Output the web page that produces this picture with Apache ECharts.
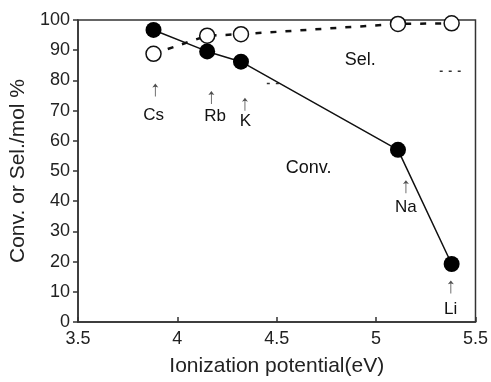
<!DOCTYPE html>
<html><head><meta charset="utf-8">
<script src="https://cdn.jsdelivr.net/npm/echarts@6/dist/echarts.min.js"></script>
<style>html,body{margin:0;padding:0;background:#fff}#c{width:491px;height:382px}</style>
</head><body><div id="c"></div>
<script>
// Data
const ionX = [3.88, 4.15, 4.32, 5.11, 5.38];
const conv = [96.7, 89.6, 86.2, 57.0, 19.2];
const sel = [88.8, 94.8, 95.3, 98.7, 98.9];
const xTicks = [3.5, 4, 4.5, 5, 5.5];
const yTicks = [0, 10, 20, 30, 40, 50, 60, 70, 80, 90, 100];
// annotations (element labels with arrows)
const elemNames = ['Cs', 'Rb', 'K', 'Na', 'Li'];
const arrowX = [3.889, 4.171, 4.34, 5.15, 5.376];
const arrowY = [76.8, 74.3, 72.1, 44.8, 11.6];
const nameX = [3.88, 4.19, 4.343, 5.15, 5.375];
const nameY = [68.6, 68.0, 66.4, 37.9, 4.2];
const seriesNames = ['Sel.', 'Conv.'];
const seriesNameX = [4.92, 4.66];
const seriesNameY = [86.9, 51];
// stray dash marks present in the figure
const strayA = [[4.45, 79], [4.52, 79]];
const strayB = [[5.32, 83], [5.44, 83]];

const font = 'Liberation Sans, Arial, Helvetica, sans-serif';
const chart = echarts.init(document.getElementById('c'));
const pts = (xs, ys) => xs.map((x, i) => [x, ys[i]]);
const textSeries = (xs, ys, texts, size) => ({
  type: 'scatter', symbolSize: 0.1, itemStyle: {color: '#fff'}, silent: true, z: 5,
  data: xs.map((x, i) => ({value: [x, ys[i]], label: {formatter: texts[i]}})),
  label: {show: true, position: 'inside', color: '#111', fontSize: size, fontFamily: font,
          textBorderWidth: 0, opacity: 1}
});
const arrowPath = 'path://M3,0L0,4.2L2.6,3.3L2.6,14L3.4,14L3.4,3.3L6,4.2Z';
chart.setOption({
  animation: false,
  grid: {left: 78, right: 15, top: 20, bottom: 56, show: true, borderColor: '#333', borderWidth: 1.5},
  xAxis: {
    type: 'value', min: 3.5, max: 5.5, interval: 0.5,
    name: 'Ionization potential(eV)', nameLocation: 'middle', nameGap: 34,
    nameTextStyle: {fontSize: 21, color: '#222', fontFamily: font},
    axisLine: {lineStyle: {color: '#333', width: 1.5}},
    axisTick: {inside: true, length: 5, lineStyle: {color: '#333', width: 1.5}},
    axisLabel: {fontSize: 18, color: '#222', fontFamily: font, margin: 8},
    splitLine: {show: false}
  },
  yAxis: {
    type: 'value', min: 0, max: 100, interval: 10,
    name: 'Conv. or Sel./mol %', nameLocation: 'middle', nameGap: 45,
    nameTextStyle: {fontSize: 21, color: '#222', fontFamily: font},
    axisLine: {lineStyle: {color: '#333', width: 1.5}},
    axisTick: {inside: false, length: 5, lineStyle: {color: '#333', width: 1.5}},
    axisLabel: {fontSize: 18, color: '#222', fontFamily: font, margin: 8},
    splitLine: {show: false}
  },
  series: [
    {type: 'line', data: pts(ionX, sel), symbol: 'circle', symbolSize: 15,
     itemStyle: {color: '#fff', borderColor: '#111', borderWidth: 1.5},
     lineStyle: {color: '#111', width: 2.5, type: [6, 9]}, z: 3},
    {type: 'line', data: pts(ionX, conv), symbol: 'circle', symbolSize: 16,
     itemStyle: {color: '#000', borderColor: '#000', borderWidth: 0},
     lineStyle: {color: '#111', width: 1.5}, z: 4},
    {type: 'line', data: strayA, symbol: 'none', lineStyle: {color: '#333', width: 1.5, type: [3, 6]}},
    {type: 'line', data: strayB, symbol: 'none', lineStyle: {color: '#333', width: 1.5, type: [3, 6]}},
    {type: 'scatter', data: pts(arrowX, arrowY), symbol: arrowPath, symbolSize: [6, 13],
     symbolKeepAspect: false, itemStyle: {color: '#222'}, silent: true},
    textSeries(nameX, nameY, elemNames, 17),
    textSeries(seriesNameX, seriesNameY, seriesNames, 18)
  ]
});
</script></body></html>
